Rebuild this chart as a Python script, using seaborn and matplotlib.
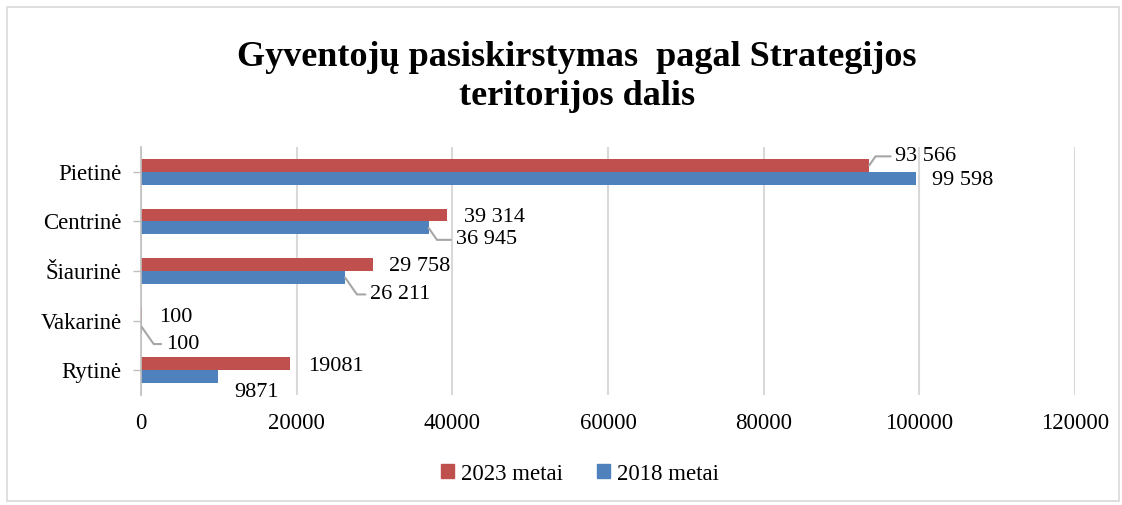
import pandas as pd
import matplotlib
matplotlib.use("Agg")
import matplotlib.pyplot as plt
from matplotlib.patches import Rectangle
import seaborn as sns

# --- data ---
regions = ["Pietinė", "Centrinė", "Šiaurinė", "Vakarinė", "Rytinė"]
series = ["2023 metai", "2018 metai"]
values_2023 = [93566, 39314, 29758, 100, 19081]
values_2018 = [99598, 36945, 26211, 100, 9871]
labels_2023 = ["93 566", "39 314", "29 758", "100", "19081"]
labels_2018 = ["99 598", "36 945", "26 211", "100", "9871"]
x_ticks = [0, 20000, 40000, 60000, 80000, 100000, 120000]

# --- style ---
sns.set_theme(style="white")
plt.rcParams['font.family'] = ['Liberation Serif', 'DejaVu Serif']
plt.rcParams['text.color'] = 'black'
plt.rcParams['xtick.color'] = 'black'
plt.rcParams['ytick.color'] = 'black'
RED = "#C0504D"
BLUE = "#4F81BD"
GRID = "#d9d9d9"

df = pd.DataFrame({
    "region": regions * 2,
    "series": [series[0]] * len(regions) + [series[1]] * len(regions),
    "value": values_2023 + values_2018,
})

fig = plt.figure(figsize=(11.22, 5.05), dpi=100)
ax = fig.add_axes([141 / 1122, 110 / 505, 934 / 1122, 248 / 505])

sns.barplot(data=df, x="value", y="region", hue="series", order=regions,
            hue_order=series, palette=[RED, BLUE], orient="h", width=0.52,
            saturation=1, linewidth=0, ax=ax, legend=False)

ax.set_xlim(0, 120000)
ax.set_xticks(x_ticks)
ax.set_xticklabels([str(t) for t in x_ticks], fontsize=16.5)
ax.tick_params(axis="x", length=0, pad=13, labelcolor="black")
ax.tick_params(axis="y", length=6, width=1, color="#bfbfbf", pad=8, labelsize=16.5,
               left=True, labelcolor="black")
ax.set_xlabel("")
ax.set_ylabel("")
ax.xaxis.grid(True, color=GRID, linewidth=1.5)
ax.set_axisbelow(True)
for s in ["top", "right", "bottom"]:
    ax.spines[s].set_visible(False)
ax.spines["left"].set_color("#bfbfbf")
ax.spines["left"].set_linewidth(1.2)

# label offsets (pixels) from bar end; leader-line flag
offs_2023 = [(26, 9, True), (17, -3, False), (16, -2, False), (17, -3, False), (19, -3, False)]
offs_2018 = [(16, -2, False), (27, -12, True), (25, -17, True), (24, -17, True), (16, -16, False)]

for cont, labs, offs in [(ax.containers[0], labels_2023, offs_2023),
                         (ax.containers[1], labels_2018, offs_2018)]:
    for bar, lab, (dx, dy, lead) in zip(cont, labs, offs):
        xy = (bar.get_width(), bar.get_y() + bar.get_height() / 2)
        kw = {}
        if lead:
            ang = 55 if dy > 0 else -55
            kw["arrowprops"] = dict(arrowstyle="-", color="#a6a6a6", lw=1.5,
                                    shrinkA=1, shrinkB=0, relpos=(0, 0.5),
                                    connectionstyle=f"angle,angleA=0,angleB={ang},rad=0")
        ax.annotate(lab, xy=xy, xytext=(dx, dy), textcoords="offset pixels",
                    ha="left", va="center", fontsize=16, color="black",
                    annotation_clip=False, **kw)

# title
fig.text(577 / 1122, 1 - 77 / 505,
         "Gyventojų pasiskirstymas  pagal Strategijos\nteritorijos dalis",
         ha="center", va="center", fontsize=26, fontweight="bold",
         linespacing=1.25, color="black")

# legend
handles = [Rectangle((0, 0), 1, 1, color=RED), Rectangle((0, 0), 1, 1, color=BLUE)]
fig.legend(handles, series, loc="center", bbox_to_anchor=(580 / 1122, 1 - 474 / 505),
           ncol=2, frameon=False, fontsize=16.5, handlelength=0.55, handleheight=0.55,
           handletextpad=0.3, columnspacing=1.5, labelcolor="black")

# chart frame
fig.patches.append(Rectangle((7 / 1122, 4 / 505), 1112 / 1122, 494 / 505,
                             transform=fig.transFigure, fill=False,
                             edgecolor="#d9d9d9", linewidth=1.2))

fig.savefig("out.png", dpi=100, facecolor="white")
